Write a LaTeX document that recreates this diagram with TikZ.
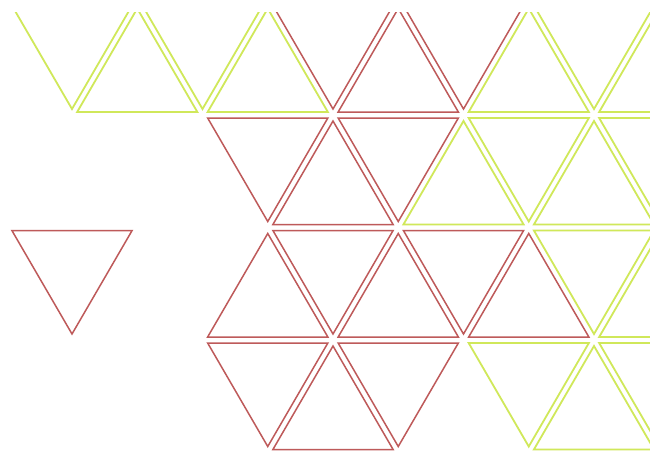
\documentclass[tikz,border=0pt]{standalone}
\usetikzlibrary{calc}
\definecolor{tred}{RGB}{190,90,90}
\definecolor{tyel}{RGB}{208,232,90}
\tikzset{
  redtri/.style={draw=tred,line width=1.5pt,line join=miter},
  yeltri/.style={draw=tyel,line width=1.8pt,line join=miter}
}
% up triangle: apex (x,y); down triangle: bottom vertex (x,y)
\newcommand{\uptri}[3]{\draw[#1] (#2,#3+6) -- (#2-60.1,#3+109.5) -- (#2+60.1,#3+109.5) -- cycle;}
\newcommand{\dntri}[3]{\draw[#1] (#2,#3-6) -- (#2-60.1,#3-109.5) -- (#2+60.1,#3-109.5) -- cycle;}
\begin{document}
\begin{tikzpicture}[x=1pt,y=-1pt]
\fill[white] (0,0) rectangle (650,458);
\useasboundingbox (0,0) rectangle (650,458);
\clip (0,12) rectangle (650,458);
% row 1
\dntri{yeltri}{72}{115}
\uptri{yeltri}{137.25}{2.5}
\dntri{yeltri}{202.5}{115}
\uptri{yeltri}{267.75}{2.5}
\dntri{redtri}{333}{115}
\uptri{redtri}{398.25}{2.5}
\dntri{redtri}{463.5}{115}
\uptri{yeltri}{528.75}{2.5}
\dntri{yeltri}{594}{115}
\uptri{yeltri}{659.25}{2.5}
% row 2
\dntri{redtri}{267.75}{227.5}
\uptri{redtri}{333}{115}
\dntri{redtri}{398.25}{227.5}
\uptri{yeltri}{463.5}{115}
\dntri{yeltri}{528.75}{227.5}
\uptri{yeltri}{594}{115}
\dntri{yeltri}{659.25}{227.5}
% row 3
\dntri{redtri}{72}{340}
\uptri{redtri}{267.75}{227.5}
\dntri{redtri}{333}{340}
\uptri{redtri}{398.25}{227.5}
\dntri{redtri}{463.5}{340}
\uptri{redtri}{528.75}{227.5}
\dntri{yeltri}{594}{340}
\uptri{yeltri}{659.25}{227.5}
% row 4
\dntri{redtri}{267.75}{452.5}
\uptri{redtri}{333}{340}
\dntri{redtri}{398.25}{452.5}
\dntri{yeltri}{528.75}{452.5}
\uptri{yeltri}{594}{340}
\dntri{yeltri}{659.25}{452.5}
\end{tikzpicture}
\end{document}
